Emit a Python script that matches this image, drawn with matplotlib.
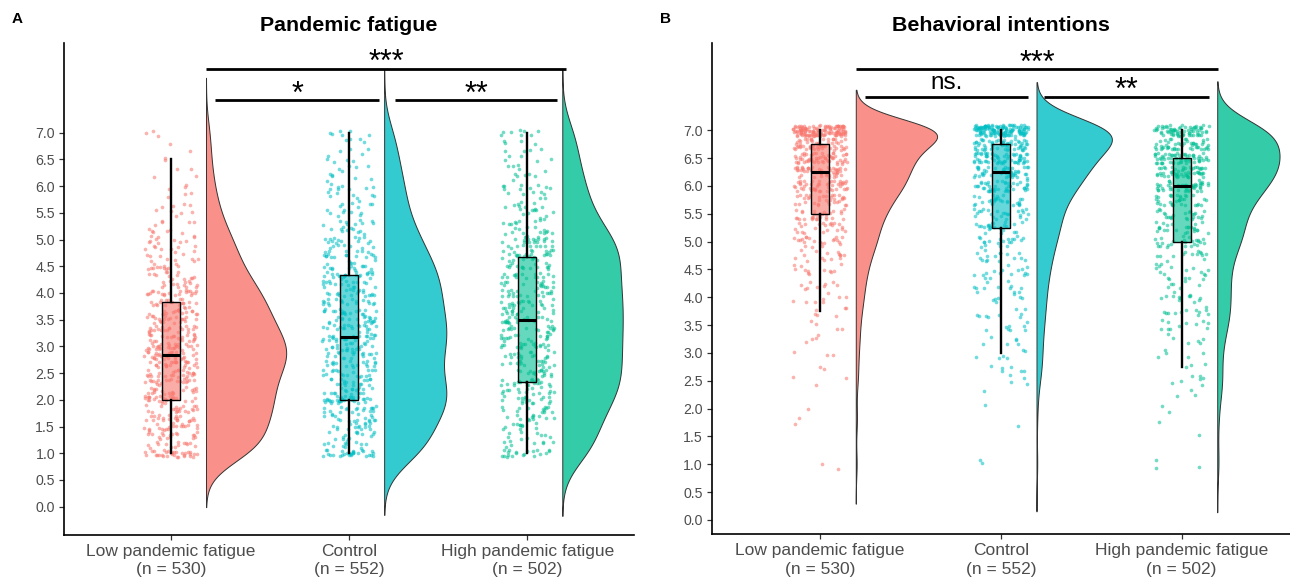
import numpy as np
import matplotlib
matplotlib.use('Agg')
import matplotlib.pyplot as plt

plt.rcParams['font.family'] = ['Liberation Sans', 'DejaVu Sans']

groups = ['Low pandemic fatigue', 'Control', 'High pandemic fatigue']
n_sizes = [530, 552, 502]
colors = ['#F8766D', '#00BFC4', '#00BF92']

# response scales (A: mean of 6 items, B: mean of 4 items)
levels_a = np.arange(6, 43) / 6.0
levels_b = np.arange(4, 29) / 4.0

fatigue_low = [32, 14, 18, 20, 21, 20, 25, 20, 21, 24, 25, 29, 29, 23, 22, 22, 20, 18,
               21, 14, 13, 12, 10, 9, 11, 6, 5, 5, 4, 3, 3, 2, 2, 2, 1, 1, 3]
fatigue_ctrl = [30, 12, 14, 16, 17, 18, 34, 18, 18, 19, 18, 18, 20, 26, 20, 20, 19, 19,
                20, 17, 22, 16, 15, 13, 14, 10, 9, 8, 7, 7, 8, 6, 5, 5, 4, 4, 6]
fatigue_high = [20, 8, 9, 11, 12, 13, 18, 15, 22, 17, 17, 17, 20, 17, 17, 20, 18, 17,
                20, 17, 16, 16, 21, 17, 19, 13, 10, 9, 8, 7, 9, 6, 5, 5, 4, 4, 8]

intent_low = [2, 0, 0, 2, 1, 0, 3, 2, 3, 4, 4, 6, 8, 9, 12, 15, 22, 22,
              30, 35, 50, 50, 60, 58, 132]
intent_ctrl = [2, 0, 0, 1, 1, 1, 4, 6, 6, 6, 8, 9, 10, 11, 14, 16, 20, 25,
               25, 30, 45, 50, 65, 61, 136]
intent_high = [3, 0, 1, 1, 2, 3, 7, 3, 5, 6, 11, 12, 13, 11, 13, 14, 25, 25,
               25, 35, 47, 58, 60, 50, 72]

panels = [
    dict(letter='A', title='Pandemic fatigue', levels=levels_a,
         counts=[fatigue_low, fatigue_ctrl, fatigue_high], ylim=(-0.53, 8.67),
         rect=[0.0496, 0.076, 0.4419, 0.849], jit_h=0.4 / 6,
         sig=[(1.25, 2.17, 7.61, '*'), (2.26, 3.17, 7.61, '**'), (1.2, 3.22, 8.2, '***')]),
    dict(letter='B', title='Behavioral intentions', levels=levels_b,
         counts=[intent_low, intent_ctrl, intent_high], ylim=(-0.26, 8.56),
         rect=[0.5517, 0.077, 0.4483, 0.848], jit_h=0.1,
         sig=[(1.25, 2.15, 7.6, 'ns.'), (2.24, 3.15, 7.6, '**'), (1.2, 3.2, 8.1, '***')]),
]


def hash01(k, seed):
    # deterministic scatter for the jitter
    return np.mod(np.sin(k * 12.9898 + seed * 78.233) * 43758.5453, 1.0)


fig = plt.figure(figsize=(12.9, 5.79), dpi=100)

for pi, p in enumerate(panels):
    ax = fig.add_axes(p['rect'])
    data = [np.repeat(p['levels'], c) for c in p['counts']]

    # densities (gaussian kernel, nrd0 bandwidth, not trimmed)
    dens_list = []
    for vals in data:
        n = len(vals)
        q75, q25 = np.percentile(vals, [75, 25])
        bw = 0.9 * min(vals.std(ddof=1), (q75 - q25) / 1.34) * n ** -0.2
        grid = np.linspace(vals.min() - 3 * bw, vals.max() + 3 * bw, 512)
        d = np.exp(-0.5 * ((grid[:, None] - vals[None, :]) / bw) ** 2).sum(1)
        d = d / (n * bw * np.sqrt(2 * np.pi))
        dens_list.append((grid, d))
    dmax = max(d.max() for g, d in dens_list)

    for i, vals in enumerate(data):
        pos = i + 1
        k = np.arange(len(vals)) + 1.0
        jx = (hash01(k, 3 * pi + i + 1) * 2 - 1) * 0.15
        jy = (hash01(k, 3 * pi + i + 11.5) * 2 - 1) * p['jit_h']
        ax.scatter(pos + jx, vals + jy, s=7, color=colors[i], alpha=0.55,
                   linewidths=0, zorder=2)
        grid, d = dens_list[i]
        ax.fill_betweenx(grid, pos + 0.2, pos + 0.2 + d / dmax * 0.45,
                         facecolor=colors[i], alpha=0.8, edgecolor='none', zorder=2)
        ax.fill_betweenx(grid, pos + 0.2, pos + 0.2 + d / dmax * 0.45,
                         facecolor='none', edgecolor='#333333', linewidth=0.7, zorder=3)

    bp = ax.boxplot(data, positions=[1, 2, 3], widths=0.1, showfliers=False,
                    showcaps=False, patch_artist=True, whis=1.5, manage_ticks=False,
                    zorder=4)
    for i, box in enumerate(bp['boxes']):
        box.set_facecolor(matplotlib.colors.to_rgba(colors[i], 0.6))
        box.set_edgecolor('black')
        box.set_linewidth(1.0)
    for w in bp['whiskers']:
        w.set_color('black')
        w.set_linewidth(1.7)
    for m in bp['medians']:
        m.set_color('black')
        m.set_linewidth(2.2)

    # significance bars
    for x0, x1, y, lab in p['sig']:
        ax.plot([x0, x1], [y, y], color='black', linewidth=2.0,
                solid_capstyle='butt', zorder=5)
        if lab == 'ns.':
            ax.text((x0 + x1) / 2, y + 0.14, lab, ha='center', va='baseline',
                    fontsize=17.5)
        else:
            ax.text((x0 + x1) / 2, y + 0.1, lab, ha='center', va='center',
                    fontsize=22)

    ax.set_xlim(0.4, 3.6)
    ax.set_ylim(*p['ylim'])
    ax.set_yticks(np.arange(0, 7.01, 0.5))
    ax.set_yticklabels(['%.1f' % t for t in np.arange(0, 7.01, 0.5)])
    ax.set_xticks([1, 2, 3])
    ax.set_xticklabels(['%s\n(n = %d)' % (g, n) for g, n in zip(groups, n_sizes)])
    for t in ax.get_xticklabels():
        t.set_linespacing(1.3)
    ax.tick_params(axis='y', labelsize=10.2, labelcolor='#4D4D4D', color='#333333',
                   length=3.4, width=0.9, pad=3)
    ax.tick_params(axis='x', labelsize=12.5, labelcolor='#4D4D4D', color='#333333',
                   length=3.4, width=0.9, pad=3)
    for s in ['top', 'right']:
        ax.spines[s].set_visible(False)
    for s in ['left', 'bottom']:
        ax.spines[s].set_linewidth(1.2)
        ax.spines[s].set_color('black')

    ax.set_title(p['title'], fontsize=15.4, fontweight='bold', pad=9)
    bb = p['rect']
    fig.text(bb[0] - 0.036, 0.968, p['letter'],
             fontsize=11, fontweight='bold', ha='center', va='center')

fig.savefig('out.png', dpi=100)
